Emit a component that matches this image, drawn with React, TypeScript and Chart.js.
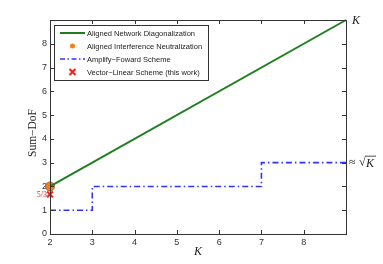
import React, { useEffect, useRef } from "react";
import { Chart, registerables } from "chart.js";

Chart.register(...registerables);

const kRange = [2, 9];
const andSumDoF = [2, 9];
const ainK = [2];
const ainSumDoF = [2];
const afK = [2, 3, 7, 9];
const afSumDoF = [1, 2, 3, 3];
const vlK = [2];
const vlSumDoF = [5 / 3];
const xTicks = [2, 3, 4, 5, 6, 7, 8];
const yTicks = [0, 1, 2, 3, 4, 5, 6, 7, 8];
const legendLabels = [
  "Aligned Network Diagonalization",
  "Aligned Interference Neutralization",
  "Amplify\u2212Foward Scheme",
  "Vector\u2212Linear Scheme (this work)",
];

const GREEN = "#1f7f1f";
const ORANGE = "#f57f17";
const BLUE = "#3333f8";
const RED = "#ff1a1a";

const zip = (xs: number[], ys: number[]) => xs.map((x, i) => ({ x, y: ys[i] }));

const decor = {
  id: "decor",
  afterDraw(chart: any) {
    const { ctx, chartArea: a, scales } = chart;
    const xs = scales.x;
    const ys = scales.y;
    ctx.save();
    // box
    ctx.strokeStyle = "#333";
    ctx.lineWidth = 1;
    ctx.strokeRect(a.left + 0.5, a.top + 0.5, a.right - a.left, a.bottom - a.top);
    // inside ticks
    ctx.beginPath();
    xTicks.forEach((v) => {
      const p = Math.round(xs.getPixelForValue(v)) + 0.5;
      ctx.moveTo(p, a.bottom);
      ctx.lineTo(p, a.bottom - 4);
      ctx.moveTo(p, a.top);
      ctx.lineTo(p, a.top + 4);
    });
    yTicks.forEach((v) => {
      const p = Math.round(ys.getPixelForValue(v)) + 0.5;
      ctx.moveTo(a.left, p);
      ctx.lineTo(a.left + 4, p);
      ctx.moveTo(a.right, p);
      ctx.lineTo(a.right - 4, p);
    });
    ctx.stroke();

    // axis titles
    ctx.fillStyle = "#222";
    ctx.font = "11.5px 'Liberation Serif', 'DejaVu Serif', serif";
    ctx.textAlign = "center";
    ctx.textBaseline = "middle";
    ctx.save();
    ctx.translate(33, (a.top + a.bottom) / 2 + 6);
    ctx.rotate(-Math.PI / 2);
    ctx.fillText("Sum\u2212DoF", 0, 0);
    ctx.restore();
    ctx.font = "italic 12px 'Liberation Serif', 'DejaVu Serif', serif";
    ctx.fillText("K", (a.left + a.right) / 2, 252);

    // annotations
    ctx.textAlign = "left";
    ctx.font = "italic 12px 'Liberation Serif', serif";
    ctx.fillText("K", a.right + 6, ys.getPixelForValue(9) + 1);
    const y3 = ys.getPixelForValue(3);
    ctx.font = "12px 'Liberation Serif', serif";
    ctx.fillText("\u2248", a.right + 3, y3);
    ctx.fillText("\u221A", a.right + 13, y3);
    ctx.font = "italic 12px 'Liberation Serif', serif";
    ctx.fillText("K", a.right + 20, y3 + 1);
    ctx.beginPath();
    ctx.lineWidth = 0.8;
    ctx.strokeStyle = "#222";
    ctx.moveTo(a.right + 19, y3 - 6.5);
    ctx.lineTo(a.right + 30, y3 - 6.5);
    ctx.stroke();

    ctx.fillStyle = RED;
    ctx.font = "8px 'Liberation Serif', serif";
    ctx.textAlign = "right";
    ctx.fillText("5/3", a.left - 3, ys.getPixelForValue(5 / 3) + 1);

    // legend
    const lx = a.left + 4;
    const ly = a.top + 5;
    const lw = 154;
    const lh = 55;
    ctx.fillStyle = "#fff";
    ctx.fillRect(lx, ly, lw, lh);
    ctx.strokeStyle = "#333";
    ctx.lineWidth = 1;
    ctx.strokeRect(lx + 0.5, ly + 0.5, lw, lh);
    ctx.font = "7.5px 'Liberation Sans', Arial, sans-serif";
    ctx.textAlign = "left";
    ctx.textBaseline = "middle";
    legendLabels.forEach((t, i) => {
      const yy = ly + 8 + i * 13;
      const sx = lx + 6;
      const ex = lx + 31;
      ctx.save();
      if (i === 0) {
        ctx.strokeStyle = GREEN;
        ctx.lineWidth = 2;
        ctx.beginPath();
        ctx.moveTo(sx, yy);
        ctx.lineTo(ex, yy);
        ctx.stroke();
      } else if (i === 1) {
        ctx.fillStyle = ORANGE;
        ctx.beginPath();
        ctx.arc((sx + ex) / 2, yy, 2.5, 0, Math.PI * 2);
        ctx.fill();
      } else if (i === 2) {
        ctx.strokeStyle = BLUE;
        ctx.lineWidth = 1.5;
        ctx.setLineDash([5, 2.5, 1.5, 2.5]);
        ctx.beginPath();
        ctx.moveTo(sx, yy);
        ctx.lineTo(ex, yy);
        ctx.stroke();
      } else {
        ctx.strokeStyle = RED;
        ctx.lineWidth = 2;
        const cx = (sx + ex) / 2;
        ctx.beginPath();
        ctx.moveTo(cx - 3, yy - 3);
        ctx.lineTo(cx + 3, yy + 3);
        ctx.moveTo(cx + 3, yy - 3);
        ctx.lineTo(cx - 3, yy + 3);
        ctx.stroke();
      }
      ctx.restore();
      ctx.fillStyle = "#222";
      ctx.fillText(t, lx + 33, yy + 0.5);
    });
    ctx.restore();
  },
};

export default function App() {
  const ref = useRef<HTMLCanvasElement>(null);
  useEffect(() => {
    const chart = new Chart(ref.current as HTMLCanvasElement, {
      type: "scatter",
      data: {
        datasets: [
          {
            label: legendLabels[0],
            data: zip(kRange, andSumDoF),
            showLine: true,
            borderColor: GREEN,
            borderWidth: 2,
            pointRadius: 0,
            clip: false,
          },
          {
            label: legendLabels[2],
            data: zip(afK, afSumDoF),
            showLine: true,
            stepped: "before",
            borderColor: BLUE,
            borderWidth: 1.6,
            borderDash: [6, 3, 1.5, 3],
            pointRadius: 0,
            clip: false,
          },
          {
            label: legendLabels[1],
            data: zip(ainK, ainSumDoF),
            pointRadius: 4.5,
            backgroundColor: ORANGE,
            borderColor: "#9a5a1a",
            borderWidth: 0.8,
            clip: false,
          },
          {
            label: legendLabels[3],
            data: zip(vlK, vlSumDoF),
            pointStyle: "crossRot",
            pointRadius: 4,
            borderColor: RED,
            borderWidth: 2,
            clip: false,
          },
        ] as any,
      },
      options: {
        animation: false,
        responsive: false,
        layout: { padding: { top: 20, right: 37, left: 0, bottom: 0 } },
        plugins: { legend: { display: false }, tooltip: { enabled: false } },
        scales: {
          x: {
            type: "linear",
            min: 2,
            max: 9,
            grid: { display: false, drawTicks: false, tickLength: 0 },
            border: { display: false },
            ticks: {
              stepSize: 1,
              padding: 3,
              color: "#333",
              font: { size: 9, family: "'Liberation Sans', Arial, sans-serif" },
              callback: (v: any) => (xTicks.includes(Number(v)) ? String(v) : ""),
            },
            afterFit: (s: any) => {
              s.height = 30;
            },
          },
          y: {
            type: "linear",
            min: 0,
            max: 9,
            grid: { display: false, drawTicks: false, tickLength: 0 },
            border: { display: false },
            ticks: {
              stepSize: 1,
              padding: 3,
              color: "#333",
              font: { size: 9, family: "'Liberation Sans', Arial, sans-serif" },
              callback: (v: any) => (yTicks.includes(Number(v)) ? String(v) : ""),
            },
            afterFit: (s: any) => {
              s.width = 50;
            },
          },
        },
      },
      plugins: [decor],
    });
    return () => chart.destroy();
  }, []);
  return (
    <div style={{ position: "absolute", left: 0, top: 0, width: 383, height: 264 }}>
      <canvas ref={ref} width={383} height={264} style={{ width: 383, height: 264 }} />
    </div>
  );
}
